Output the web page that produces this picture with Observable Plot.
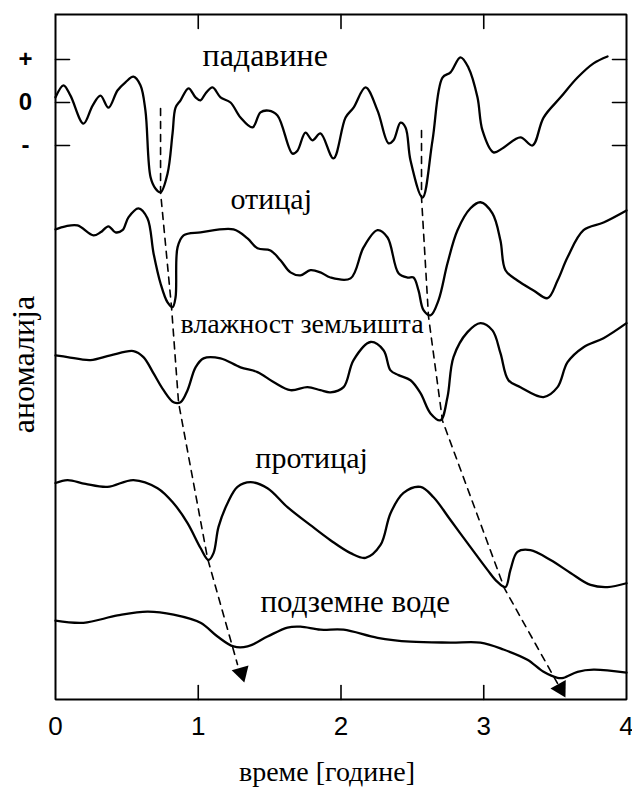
<!DOCTYPE html>
<html>
<head>
<meta charset="utf-8">
<script src="https://cdn.jsdelivr.net/npm/d3@7"></script>
<script src="https://cdn.jsdelivr.net/npm/@observablehq/plot@0.6"></script>
<style>
  body { margin: 0; background: #fff; }
  #chart svg { display: block; }
</style>
</head>
<body>
<div id="chart"></div>
<script>
// Propagation of a drought through the hydrological cycle:
// anomaly curves (arbitrary units) versus time in years, stacked top to bottom.

const seriesNames = ["падавине", "отицај", "влажност земљишта", "протицај", "подземне воде"];
const seriesOffsets = [0, -2.95, -5.9, -8.85, -12.05];

// падавине (precipitation)
const padavineT = [0, 0.056, 0.105, 0.196, 0.26, 0.315, 0.371, 0.434, 0.49, 0.546, 0.595, 0.63, 0.666, 0.70, 0.736, 0.785, 0.82, 0.841, 0.876, 0.932, 0.981, 1.016, 1.051, 1.10, 1.156, 1.226, 1.296, 1.38, 1.436, 1.492, 1.555, 1.66, 1.695, 1.751, 1.80, 1.856, 1.947, 2.032, 2.088, 2.172, 2.256, 2.333, 2.368, 2.417, 2.452, 2.487, 2.571, 2.641, 2.711, 2.767, 2.837, 2.893, 2.956, 2.991, 3.068, 3.138, 3.257, 3.341, 3.419, 3.538, 3.657, 3.769, 3.867];
const padavineV = [0.12, 0.40, 0.16, -0.49, -0.07, 0.16, -0.12, 0.28, 0.47, 0.60, 0.40, -0.19, -1.74, -2.00, -2.09, -1.65, -0.72, -0.12, 0.05, 0.33, 0.12, 0.05, 0.21, 0.35, 0.12, 0, -0.35, -0.58, -0.23, -0.19, -0.30, -1.19, -1.12, -0.70, -0.88, -0.72, -1.30, -0.35, -0.12, 0.35, -0.19, -0.95, -0.88, -0.47, -0.58, -1.35, -2.21, -0.88, 0.58, 0.70, 1.05, 0.81, 0.12, -0.65, -1.16, -1.05, -0.81, -1.00, -0.35, 0.12, 0.58, 0.91, 1.07];

// отицај (runoff)
const oticajT = [0, 0.07, 0.154, 0.266, 0.315, 0.371, 0.42, 0.469, 0.511, 0.581, 0.644, 0.687, 0.736, 0.785, 0.82, 0.841, 0.855, 0.897, 1.016, 1.247, 1.345, 1.415, 1.506, 1.576, 1.646, 1.716, 1.786, 1.856, 1.926, 2.067, 2.158, 2.256, 2.326, 2.403, 2.466, 2.508, 2.543, 2.578, 2.627, 2.683, 2.746, 2.816, 2.907, 2.977, 3.061, 3.117, 3.152, 3.236, 3.349, 3.447, 3.517, 3.587, 3.699, 3.839, 4.0];
const oticajV = [0, 0.07, 0.09, -0.14, -0.07, 0.07, -0.07, -0.02, 0.28, 0.49, 0.26, -0.56, -1.26, -1.70, -1.81, -1.58, -0.42, -0.14, -0.07, 0, -0.21, -0.44, -0.49, -0.72, -1.00, -1.07, -0.95, -1.00, -1.12, -1.14, -0.42, -0.02, -0.19, -1.02, -1.12, -1.12, -1.42, -1.88, -2.00, -1.65, -0.79, -0.02, 0.49, 0.63, 0.37, -0.26, -0.95, -1.19, -1.42, -1.60, -1.19, -0.65, -0.02, 0.16, 0.44];

// влажност земљишта (soil moisture)
const vlagaT = [0, 0.084, 0.245, 0.385, 0.546, 0.616, 0.687, 0.757, 0.827, 0.876, 0.925, 0.981, 1.037, 1.156, 1.296, 1.415, 1.527, 1.646, 1.765, 1.856, 1.926, 2.018, 2.088, 2.207, 2.298, 2.347, 2.403, 2.487, 2.557, 2.627, 2.697, 2.746, 2.788, 2.886, 2.977, 3.061, 3.117, 3.173, 3.257, 3.419, 3.517, 3.587, 3.699, 3.839, 4.0];
const vlagaV = [0.02, -0.02, -0.09, 0.02, 0.12, -0.02, -0.40, -0.79, -1.07, -1.07, -0.79, -0.26, -0.05, -0.05, -0.26, -0.37, -0.60, -0.79, -0.72, -0.79, -0.84, -0.72, -0.09, 0.33, 0.14, -0.33, -0.44, -0.56, -0.86, -1.33, -1.49, -0.95, -0.02, 0.56, 0.77, 0.60, 0.07, -0.56, -0.72, -0.95, -0.72, -0.14, 0.21, 0.42, 0.77];

// протицај (streamflow)
const proticajT = [0, 0.084, 0.21, 0.364, 0.546, 0.715, 0.827, 0.925, 1.016, 1.072, 1.107, 1.142, 1.205, 1.275, 1.366, 1.485, 1.625, 1.786, 1.926, 2.067, 2.172, 2.277, 2.347, 2.438, 2.557, 2.648, 2.767, 2.907, 3.026, 3.096, 3.152, 3.187, 3.236, 3.327, 3.468, 3.608, 3.748, 3.867, 4.0];
const proticajV = [0, 0.07, -0.02, -0.09, 0.07, -0.12, -0.47, -0.93, -1.51, -1.79, -1.63, -1.02, -0.47, -0.09, 0.02, -0.12, -0.56, -0.98, -1.33, -1.63, -1.74, -1.44, -0.70, -0.23, -0.09, -0.33, -0.86, -1.49, -2.02, -2.30, -2.42, -2.02, -1.60, -1.56, -1.79, -2.09, -2.37, -2.42, -2.33];

// подземне воде (groundwater)
const podzemneT = [0, 0.196, 0.434, 0.644, 0.827, 1.016, 1.135, 1.247, 1.345, 1.485, 1.625, 1.716, 1.856, 2.018, 2.256, 2.487, 2.767, 2.977, 3.138, 3.306, 3.419, 3.517, 3.559, 3.657, 3.769, 4.0];
const podzemneV = [0, -0.05, 0.12, 0.21, 0.14, -0.05, -0.37, -0.60, -0.60, -0.37, -0.16, -0.14, -0.21, -0.21, -0.40, -0.49, -0.51, -0.51, -0.67, -0.91, -1.19, -1.33, -1.33, -1.19, -1.14, -1.21];

// Dashed paths tracing each drought from trough to trough (stacked coordinates)
const lag1T = [0.736, 0.736, 0.813, 0.862, 1.065, 1.275];
const lag1Y = [-0.14, -2.09, -4.77, -6.98, -10.60, -13.07];
const lag2T = [2.564, 2.564, 2.613, 2.711, 3.145, 3.517];
const lag2Y = [-0.65, -2.21, -4.98, -7.40, -11.30, -13.51];
const arrowT = [1.303, 3.538];
const arrowY = [-13.26, -13.63];
const arrowAngle = [164, 151];

// Curve labels (start year, stacked level of the baseline)
const labelT = [1.03, 1.226, 0.876, 1.40, 1.436];
const labelY = [0.84, -2.47, -5.35, -8.49, -11.86];
const labelSize = [32, 30, 28, 30, 31];

// Axis extents and ticks
const xDomain = [0, 4];
const yDomain = [-13.8837, 2.0465];
const xTicks = [0, 1, 2, 3, 4];
const xInnerTicks = [1, 2, 3];
const yTicks = [1, 0, -1];
const yTickLabels = ["+", "0", "-"];

// Plot geometry (pixels)
const W = 632, H = 787;
const mLeft = 55, mRight = 6, mTop = 14, mBottom = 88;
const tickPx = 14;

const seriesT = [padavineT, oticajT, vlagaT, proticajT, podzemneT];
const seriesV = [padavineV, oticajV, vlagaV, proticajV, podzemneV];

const curves = seriesNames.flatMap((name, i) =>
  seriesT[i].map((t, j) => ({name, t, y: seriesV[i][j] + seriesOffsets[i]}))
);
const lags = [
  ...lag1T.map((t, j) => ({id: 1, t, y: lag1Y[j]})),
  ...lag2T.map((t, j) => ({id: 2, t, y: lag2Y[j]}))
];
const arrows = arrowT.map((t, j) => ({t, y: arrowY[j], a: arrowAngle[j]}));
const labels = seriesNames.map((name, i) => ({name, t: labelT[i], y: labelY[i], size: labelSize[i]}));

// Box and inward tick segments, expressed in data units of the two scales
const [x0, x1] = xDomain, [y0, y1] = yDomain;
const dxTick = tickPx * (x1 - x0) / (W - mLeft - mRight);
const dyTick = tickPx * (y1 - y0) / (H - mTop - mBottom);
const boxPath = [
  {id: "box", t: x0, y: y1}, {id: "box", t: x1, y: y1},
  {id: "box", t: x1, y: y0}, {id: "box", t: x0, y: y0}, {id: "box", t: x0, y: y1}
];
const tickSegs = [
  ...yTicks.flatMap(v => [
    {id: `l${v}`, t: x0, y: v}, {id: `l${v}`, t: x0 + dxTick, y: v},
    {id: `r${v}`, t: x1 - dxTick, y: v}, {id: `r${v}`, t: x1, y: v}
  ]),
  ...xInnerTicks.flatMap(v => [
    {id: `b${v}`, t: v, y: y0}, {id: `b${v}`, t: v, y: y0 + dyTick},
    {id: `t${v}`, t: v, y: y1 - dyTick}, {id: `t${v}`, t: v, y: y1}
  ])
];

const serif = "'Liberation Serif', 'Times New Roman', serif";
const sans = "'Liberation Sans', Arial, sans-serif";

const chart = Plot.plot({
  width: W,
  height: H,
  marginLeft: mLeft,
  marginRight: mRight,
  marginTop: mTop,
  marginBottom: mBottom,
  x: {domain: xDomain},
  y: {domain: yDomain, axis: null},
  marks: [
    // box around the plotting area, with inward ticks on all four sides
    Plot.line(boxPath, {x: "t", y: "y", z: "id", stroke: "#000", strokeWidth: 2, strokeLinejoin: "miter", strokeLinecap: "square"}),
    Plot.line(tickSegs, {x: "t", y: "y", z: "id", stroke: "#000", strokeWidth: 1.6}),
    // anomaly curves
    Plot.line(curves, {
      x: "t", y: "y", z: "name", curve: "catmull-rom",
      stroke: "#000", strokeWidth: 2.3, strokeLinejoin: "round"
    }),
    // drought propagation paths
    Plot.line(lags, {
      x: "t", y: "y", z: "id", stroke: "#000", strokeWidth: 1.6, strokeDasharray: "7,6"
    }),
    Plot.dot(arrows, {
      x: "t", y: "y", symbol: "triangle", r: 6.5, fill: "#000", rotate: "a"
    }),
    Plot.text(labels, {
      x: "t", y: "y", text: "name", textAnchor: "start", lineAnchor: "bottom",
      fontSize: "size", fontFamily: serif, fill: "#000"
    }),
    Plot.text(["аномалија"], {
      frameAnchor: "left", dx: -22, dy: 7.5, rotate: -90,
      textAnchor: "middle", lineAnchor: "bottom",
      fontSize: 32, fontFamily: serif, fill: "#000"
    }),
    Plot.text(["време [године]"], {
      frameAnchor: "bottom", dx: -14, dy: 81, lineAnchor: "bottom",
      fontSize: 28, fontFamily: serif, fill: "#000"
    }),
    Plot.text(yTicks, {
      y: d => d, text: (d, i) => yTickLabels[i], frameAnchor: "left", dx: -30,
      textAnchor: "middle", fontSize: 24, fontFamily: sans, fontWeight: "bold", fill: "#000"
    }),
    Plot.axisX(xTicks, {
      tickSize: 0, tickPadding: 17, label: null, tickFormat: d3.format("d"),
      fontSize: 26, fontFamily: sans
    })
  ]
});

document.getElementById("chart").appendChild(chart);
</script>
</body>
</html>
